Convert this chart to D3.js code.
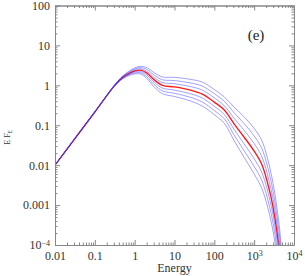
<!DOCTYPE html>
<html>
<head>
<meta charset="utf-8">
<script src="https://cdn.jsdelivr.net/npm/d3@7"></script>
<style>
body { margin: 0; background: #fff; }
svg { display: block; }
</style>
</head>
<body>
<script>
// energy grid shared by all curves
const energy = [0.01, 0.1, 0.316, 0.5, 0.794, 1, 1.41, 2, 3.16, 5, 10, 25.1, 50.1, 100, 178, 316, 562, 1000, 1585, 2512, 3162, 3981, 4467, 5012];

// E F_E, blue curves below the red one, red one, blue curves above
const fluxLow3 = [0.01, 0.215, 0.966, 1.459, 1.82, 1.928, 1.923, 1.496, 0.891, 0.617, 0.525, 0.407, 0.302, 0.184, 0.112, 0.0407, 0.0155, 0.00603, 0.00251, 5.01e-4, 1.58e-4, 3.3e-5, 1.26e-5, 2.5e-6];
const fluxLow2 = [0.01, 0.215, 0.977, 1.5, 1.905, 2.042, 2.07, 1.66, 1.023, 0.724, 0.631, 0.501, 0.38, 0.234, 0.145, 0.0562, 0.0229, 0.00933, 0.00398, 7.94e-4, 2.51e-4, 5.2e-5, 2e-5, 4e-6];
const fluxLow1 = [0.01, 0.215, 0.989, 1.542, 1.995, 2.163, 2.228, 1.841, 1.175, 0.851, 0.759, 0.617, 0.479, 0.299, 0.186, 0.0776, 0.0339, 0.0145, 0.00631, 1.26e-3, 3.98e-4, 8.3e-5, 3.16e-5, 6.3e-6];
const fluxMid = [0.01, 0.215, 1.0, 1.585, 2.089, 2.291, 2.399, 2.042, 1.349, 1.0, 0.912, 0.759, 0.603, 0.38, 0.24, 0.107, 0.0501, 0.0224, 0.01, 2.0e-3, 6.31e-4, 1.32e-4, 5.0e-5, 1e-5];
const fluxHigh1 = [0.01, 0.215, 1.012, 1.629, 2.188, 2.427, 2.582, 2.265, 1.549, 1.175, 1.096, 0.933, 0.759, 0.484, 0.309, 0.148, 0.0741, 0.0347, 0.0158, 3.16e-3, 1e-3, 2.09e-4, 7.9e-5, 1.58e-5];
const fluxHigh2 = [0.01, 0.215, 1.023, 1.675, 2.291, 2.57, 2.78, 2.512, 1.778, 1.38, 1.318, 1.148, 0.955, 0.617, 0.398, 0.204, 0.11, 0.0537, 0.0251, 5.01e-3, 1.58e-3, 3.31e-4, 1.26e-4, 2.5e-5];
const fluxHigh3 = [0.01, 0.215, 1.035, 1.722, 2.399, 2.723, 2.992, 2.786, 2.042, 1.622, 1.585, 1.413, 1.202, 0.785, 0.513, 0.282, 0.162, 0.0832, 0.0398, 7.94e-3, 2.51e-3, 5.25e-4, 2.0e-4, 4e-5];

const xTicks = [0.01, 0.1, 1, 10, 100, 1000, 10000];
const xTickLabels = ['0.01', '0.1', '1', '10', '100', '10|3', '10|4'];
const yTicks = [1e-4, 0.001, 0.01, 0.1, 1, 10, 100];
const yTickLabels = ['10|−4', '0.001', '0.01', '0.1', '1', '10', '100'];

const serif = 'Liberation Serif';

const W = 305, H = 276;
const margin = { left: 55, right: 11, top: 5.5, bottom: 31 };
const width = W - margin.left - margin.right;
const height = H - margin.top - margin.bottom;

const x = d3.scaleLog().domain([0.01, 10000]).range([0, width]);
const y = d3.scaleLog().domain([1e-4, 100]).range([height, 0]);

// minor ticks 2..9 in every decade
const minorOf = function(lo, hi) {
  const out = [];
  for (let p = lo; p < hi; p++) {
    for (let m = 2; m <= 9; m++) out.push(m * Math.pow(10, p));
  }
  return out;
};
const xMinor = minorOf(-2, 4);
const yMinor = minorOf(-4, 2);

const svg = d3.select('body').append('svg').attr('width', W).attr('height', H)
  .attr('font-family', serif);
const g = svg.append('g').attr('transform', 'translate(' + margin.left + ',' + margin.top + ')');

g.append('clipPath').attr('id', 'plot')
  .append('rect').attr('width', width).attr('height', height);

const line = d3.line()
  .x(function(d, i) { return x(energy[i]); })
  .y(function(d) { return y(d); })
  .curve(d3.curveCatmullRom.alpha(0.5));

const curves = g.append('g').attr('clip-path', 'url(#plot)');
curves.append('path').attr('d', line(fluxMid))
  .attr('fill', 'none').attr('stroke', '#ff1a1a').attr('stroke-width', 1.4);
[fluxLow3, fluxLow2, fluxLow1, fluxHigh1, fluxHigh2, fluxHigh3].forEach(function(s) {
  curves.append('path').attr('d', line(s))
    .attr('fill', 'none').attr('stroke', '#3b3bff').attr('stroke-width', 0.8).attr('stroke-opacity', 0.6);
});

// axes: majors, minors, ticks pointing inward on all sides
const labelFmt = function(labels, ticks) {
  return function(d) { return labels[ticks.indexOf(d)] || ''; };
};
const addAxis = function(axis, tr, vals, size, fmt, pad) {
  const a = g.append('g').attr('transform', tr)
    .call(axis.tickValues(vals).tickSize(size).tickSizeOuter(0).tickPadding(pad).tickFormat(fmt));
  a.attr('font-family', serif);
  a.select('.domain').attr('stroke', '#888');
  a.selectAll('.tick line').attr('stroke', '#888');
  return a;
};
const none = function() { return ''; };

const xAx = addAxis(d3.axisBottom(x), 'translate(0,' + height + ')', xTicks, -5, labelFmt(xTickLabels, xTicks), 6);
addAxis(d3.axisBottom(x), 'translate(0,' + height + ')', xMinor, -2.5, none, 0);
addAxis(d3.axisTop(x), 'translate(0,0)', xTicks, -5, none, 0);
addAxis(d3.axisTop(x), 'translate(0,0)', xMinor, -2.5, none, 0);
const yAx = addAxis(d3.axisLeft(y), 'translate(0,0)', yTicks, -5, labelFmt(yTickLabels, yTicks), 5);
addAxis(d3.axisLeft(y), 'translate(0,0)', yMinor, -2.5, none, 0);
addAxis(d3.axisRight(y), 'translate(' + width + ',0)', yTicks, -5, none, 0);
addAxis(d3.axisRight(y), 'translate(' + width + ',0)', yMinor, -2.5, none, 0);

// tick labels with superscripts
[xAx, yAx].forEach(function(a) {
  a.selectAll('.tick text').each(function() {
    const t = d3.select(this);
    const s = t.text();
    t.attr('font-size', 12).attr('fill', '#333');
    if (s.indexOf('|') >= 0) {
      const parts = s.split('|');
      t.text(null);
      t.append('tspan').text(parts[0]);
      t.append('tspan').attr('dy', '-0.45em').attr('font-size', 8).text(parts[1]);
    }
  });
});

svg.append('text')
  .attr('x', margin.left + width / 2).attr('y', 272)
  .attr('text-anchor', 'middle').attr('font-size', 12).attr('fill', '#333')
  .text('Energy');

const yl = svg.append('text')
  .attr('transform', 'translate(10,' + (margin.top + height / 2 + 12) + ') rotate(-90)')
  .attr('text-anchor', 'middle').attr('font-size', 8).attr('fill', '#333');
yl.append('tspan').text('E  F');
yl.append('tspan').attr('dy', '0.35em').attr('font-size', 6).text('E');

svg.append('text')
  .attr('x', 256).attr('y', 40)
  .attr('text-anchor', 'middle').attr('font-size', 15).attr('fill', '#222')
  .text('(e)');
</script>
</body>
</html>
